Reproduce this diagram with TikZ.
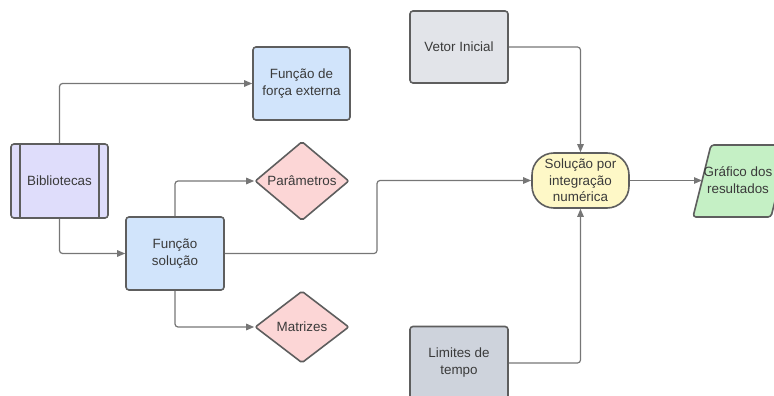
\documentclass[tikz,border=0pt]{standalone}
\usepackage{fontspec}
\setmainfont{Liberation Sans}
\usetikzlibrary{shapes.geometric,arrows.meta}
\definecolor{strokec}{HTML}{5E5E5E}
\definecolor{linec}{HTML}{767676}
\definecolor{textc}{HTML}{3A3A3A}
\definecolor{bibc}{HTML}{DFDDFB}
\definecolor{bluec}{HTML}{D1E4FB}
\definecolor{pinkc}{HTML}{FCD6D6}
\definecolor{grayac}{HTML}{E2E4E9}
\definecolor{graybc}{HTML}{CED3DC}
\definecolor{yellc}{HTML}{FEF8C7}
\definecolor{greenc}{HTML}{C5F0C5}
\begin{document}
\begin{tikzpicture}[x=1pt,y=-1pt,
  txt/.style={text=textc, align=center, font=\fontsize{13.4}{17}\selectfont},
  box/.style={txt, draw=strokec, line width=1.6pt, rounded corners=3pt, inner sep=0pt},
  dia/.style={txt, diamond, draw=strokec, line width=1.6pt, rounded corners=2pt, inner sep=0pt, fill=pinkc, minimum width=94pt, minimum height=72pt},
  conn/.style={draw=linec, line width=1.2pt, rounded corners=3pt, -{Triangle[length=8pt,width=6.5pt]}}]
\useasboundingbox (0,0) rectangle (774,396);

\node[box, fill=bibc, minimum width=97pt, minimum height=74pt] (bib) at (59.5,181) {Bibliotecas};
\draw[strokec, line width=1.6pt] ([xshift=10pt]bib.north west) -- ([xshift=10pt]bib.south west);
\draw[strokec, line width=1.6pt] ([xshift=-10pt]bib.north east) -- ([xshift=-10pt]bib.south east);

\node[box, fill=bluec, minimum width=97pt, minimum height=73pt] (fext) at (301.5,83.5) {Função de\\força externa};
\node[box, fill=bluec, minimum width=98pt, minimum height=73pt] (fs) at (175,253.5) {Função\\solução};
\node[dia] (par) at (302,181) {Parâmetros};
\node[dia] (mat) at (302,327) {Matrizes};
\node[box, fill=grayac, minimum width=98pt, minimum height=72pt] (vet) at (459,47) {Vetor Inicial};
\node[box, fill=graybc, minimum width=98pt, minimum height=73pt] (lim) at (459,363) {Limites de\\tempo};
\node[box, fill=yellc, minimum width=97pt, minimum height=55pt, rounded corners=22pt, font=\fontsize{13.4}{16.5}\selectfont] (sol) at (580.5,180.5) {Solução por\\integração\\numérica};

\draw[fill=greenc, draw=strokec, line width=1.6pt, rounded corners=3pt] (711,145) -- (789,145) -- (771,217) -- (693,217) -- cycle;
\node[txt] (graf) at (738,180.5) {Gráfico dos\\resultados};
\coordinate (gl) at (702,180.5);
\coordinate (jx) at (377,180.5);

\draw[conn] (bib.north) |- (fext.west);
\draw[conn] (bib.south) |- (fs.west);
\draw[conn] (fs.north) |- (par.west);
\draw[conn] (fs.south) |- (mat.west);
\draw[conn] (fs.east) -| (jx) -- (sol.west);
\draw[conn] (vet.east) -| (sol.north);
\draw[conn] (lim.east) -| (sol.south);
\draw[conn] (sol.east) -- (gl);
\end{tikzpicture}
\end{document}
